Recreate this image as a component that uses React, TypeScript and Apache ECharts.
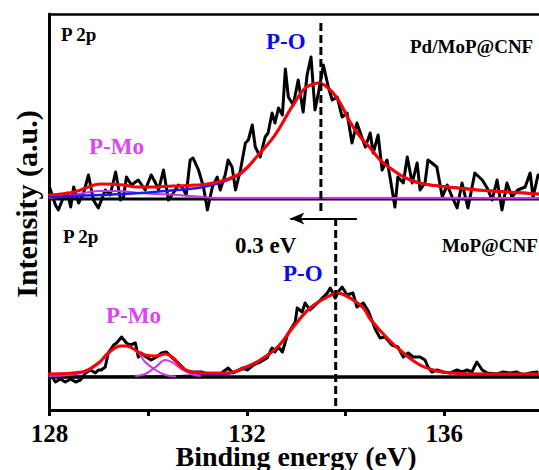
import React, { useEffect, useRef } from 'react';
import * as echarts from 'echarts';

const FONT = '"Liberation Serif", "Times New Roman", serif';

// axis
const X_MIN = 128;
const X_MAX = 137.92;
const X_STEP = 2;
const X_LABEL_STEP = 4;
const Y_MAX = 396;

// vertical stacking of the two spectra (a.u.)
const TOP_OFFSET = 211;
const BOTTOM_OFFSET = 33;

// peak positions (eV)
const TOP_PO_PEAK = 133.5;
const BOTTOM_PO_PEAK = 133.8;

// ---------- Pd/MoP@CNF (top) ----------
const topRaw: number[][] = [
  [128.0, 12], [128.12, -6], [128.18, -11], [128.26, -1], [128.36, 6], [128.43, -8], [128.49, 12],
  [128.59, -4], [128.69, 6], [128.79, 24], [128.89, -1], [128.99, -9], [129.13, 9], [129.23, 4],
  [129.34, 27], [129.44, -1], [129.5, 2], [129.56, 22], [129.66, 14], [129.8, 19], [129.94, 9],
  [130.06, 24], [130.15, 16], [130.21, 9], [130.31, 29], [130.41, -1], [130.51, 6], [130.61, 14],
  [130.69, 12], [130.77, 4], [130.85, 39], [130.91, 41], [131.02, 29], [131.12, 12], [131.2, -11],
  [131.3, 12], [131.4, 22], [131.46, 9], [131.56, 24], [131.62, 39], [131.7, 32], [131.77, 9],
  [131.87, 29], [131.97, 56], [132.03, 59], [132.11, 74], [132.17, 52], [132.27, 42], [132.37, 62],
  [132.43, 66], [132.51, 86], [132.57, 76], [132.64, 91], [132.72, 84], [132.78, 130], [132.84, 102],
  [132.94, 94], [133.04, 119], [133.14, 87], [133.22, 124], [133.3, 142], [133.38, 89], [133.45, 106],
  [133.55, 134], [133.65, 112], [133.73, 99], [133.83, 102], [133.93, 82], [134.03, 86], [134.13, 56],
  [134.23, 76], [134.3, 66], [134.4, 52], [134.5, 66], [134.56, 46], [134.66, 64], [134.74, 29],
  [134.84, 39], [134.9, 22], [135.0, -8], [135.06, 22], [135.17, 16], [135.25, 42], [135.35, 16],
  [135.45, 36], [135.51, 9], [135.61, 16], [135.67, 39], [135.75, 36], [135.85, 32], [135.96, 2],
  [136.06, 14], [136.16, 2], [136.26, -9], [136.36, 16], [136.48, -9], [136.62, 26], [136.77, 19],
  [136.87, 11], [136.97, -1], [137.07, 19], [137.17, -11], [137.27, 16], [137.37, 2], [137.49, 9],
  [137.64, 12], [137.74, 26], [137.8, 2], [137.9, 24],
];
const topEnvelope: number[][] = [
  [128.0, 4], [128.5, 7], [129.05, 15], [129.5, 14], [129.75, 12], [130.05, 12], [130.5, 13],
  [131.0, 14], [131.2, 15], [131.56, 19], [131.9, 27], [132.23, 44], [132.57, 64], [132.91, 92],
  [133.18, 111], [133.3, 114], [133.45, 116], [133.69, 109], [133.89, 96], [134.09, 77], [134.3, 62],
  [134.5, 51], [134.7, 39], [134.9, 31], [135.11, 24], [135.31, 19], [135.51, 16], [135.71, 14],
  [136.28, 11], [136.97, 8], [137.64, 6], [137.9, 5],
];
const topPO: number[][] = [
  [128.0, 2], [128.5, 3], [129.0, 4], [129.5, 5], [130.0, 6.5], [130.6, 9], [131.0, 11], [131.2, 13],
  [131.56, 18], [131.9, 26], [132.23, 44], [132.57, 64], [132.91, 92], [133.18, 111], [133.3, 114],
  [133.45, 116], [133.69, 109], [133.89, 96], [134.09, 77], [134.3, 62], [134.5, 51], [134.7, 39],
  [134.9, 31], [135.11, 24], [135.31, 19], [135.51, 16], [135.71, 14], [136.28, 11], [136.97, 8],
  [137.64, 6], [137.9, 5],
];
const topPMo: number[][] = [
  [128.0, 1], [128.5, 4], [129.0, 8], [129.4, 8], [129.8, 6], [130.2, 5], [130.6, 4], [131.0, 2.5],
  [131.4, 1], [131.8, 1], [137.9, 1],
];

// ---------- MoP@CNF (bottom) ----------
const bottomRaw: number[][] = [
  [128.0, 4], [128.12, -5], [128.22, -2], [128.32, -5], [128.43, -2], [128.53, -5], [128.63, -3],
  [128.73, 4], [128.83, 7], [128.93, 4], [128.99, 7], [129.05, 7], [129.13, 10], [129.19, 24],
  [129.3, 32], [129.36, 34], [129.46, 40], [129.56, 34], [129.64, 32], [129.74, 34], [129.8, 20],
  [129.86, 24], [129.96, 20], [130.06, 17], [130.17, 20], [130.27, 24], [130.37, 25], [130.47, 20],
  [130.61, 14], [130.75, 7], [130.87, 5], [131.08, 5], [131.26, 2], [131.46, 3], [131.62, 9],
  [131.72, 4], [131.91, 9], [132.01, 7], [132.13, 12], [132.27, 15], [132.41, 19], [132.51, 29],
  [132.57, 25], [132.64, 30], [132.72, 25], [132.82, 42], [132.88, 47], [132.98, 55], [133.02, 69],
  [133.12, 65], [133.18, 74], [133.28, 67], [133.43, 74], [133.53, 79], [133.63, 84], [133.69, 89],
  [133.79, 79], [133.85, 85], [133.93, 90], [134.03, 82], [134.15, 84], [134.23, 70], [134.36, 74],
  [134.46, 66], [134.6, 48], [134.7, 39], [134.8, 40], [134.94, 32], [135.06, 30], [135.17, 20],
  [135.27, 24], [135.37, 20], [135.51, 20], [135.61, 17], [135.67, 10], [135.75, 5], [135.85, 7],
  [135.98, 5], [136.12, 4], [136.26, 7], [136.36, 5], [136.46, 7], [136.56, 5], [136.66, 15],
  [136.77, 7], [136.87, 4], [137.07, 3], [137.19, 5], [137.33, 4], [137.47, 5], [137.6, 2],
  [137.74, 4], [137.88, 5],
];
const bottomEnvelope: number[][] = [
  [128.0, 3], [128.65, 5], [128.99, 14], [129.19, 24], [129.44, 31], [129.56, 31], [129.8, 25],
  [129.94, 22], [130.15, 21], [130.35, 23], [130.51, 19], [130.67, 10], [130.87, 5], [131.22, 4],
  [131.6, 4], [131.93, 9], [132.27, 17], [132.62, 30], [132.94, 50], [133.28, 69], [133.63, 80],
  [133.83, 84], [134.09, 79], [134.36, 69], [134.5, 58], [134.84, 39], [135.17, 24], [135.51, 12],
  [135.85, 6], [136.18, 4], [136.52, 3], [137.9, 3],
];
const bottomPO: number[][] = [
  [128.0, 0], [130.5, 0.5], [131.22, 2], [131.6, 3], [131.93, 8], [132.27, 17], [132.62, 30],
  [132.94, 50], [133.28, 69], [133.63, 80], [133.83, 84], [134.09, 79], [134.36, 69], [134.5, 58],
  [134.84, 39], [135.17, 24], [135.51, 12], [135.85, 6], [136.18, 4], [136.52, 3], [137.9, 3],
];
const bottomPMo1: number[][] = [
  [128.0, 1], [128.65, 4], [128.99, 13], [129.19, 23], [129.44, 31], [129.56, 31], [129.8, 24],
  [129.94, 15], [130.15, 7], [130.35, 2], [130.55, 0.5],
];
const bottomPMo2: number[][] = [
  [129.75, 1], [129.94, 3], [130.15, 10], [130.35, 17], [130.51, 14], [130.67, 8], [130.87, 3],
  [131.05, 1],
];

// annotations
const ARROW_FROM = 134.23;
const ARROW_TO = 132.88;
const ARROW_LEVEL = 191.5;

const shift = (d: number[][], off: number) => d.map(([x, y]) => [x, y + off]);

const RED = '#ff0000';
const BLUE = '#1a1aff';
const MAGENTA = '#cc33ee';
const LABEL_MAGENTA = '#dd44f2';
const LABEL_BLUE = '#0a0af0';

function lineSeries(data: number[][], color: string, width: number, z: number, smooth: number | boolean) {
  return {
    type: 'line',
    data,
    showSymbol: false,
    symbol: 'none',
    smooth,
    z,
    lineStyle: { color, width, cap: 'round', join: 'round' },
    silent: true,
  };
}

function dashed(x: number, y0: number, y1: number) {
  return {
    type: 'line',
    data: [[x, y0], [x, y1]],
    showSymbol: false,
    symbol: 'none',
    z: 8,
    silent: true,
    lineStyle: { color: '#000', width: 3, type: [8, 4] },
  };
}

function text(t: string, x: number, y: number, size: number, fill = '#000') {
  return {
    type: 'text',
    x,
    y,
    z: 100,
    style: {
      text: t,
      fill,
      font: `bold ${size}px ${FONT}`,
      align: 'left',
      verticalAlign: 'middle',
    },
  };
}

export default function App() {
  const ref = useRef<HTMLDivElement>(null);
  useEffect(() => {
    if (!ref.current) return;
    const chart = echarts.init(ref.current, null, { renderer: 'svg' });
    const option: any = {
      animation: false,
      backgroundColor: '#fff',
      grid: { left: 49.5, top: 14, width: 490, height: Y_MAX, containLabel: false },
      xAxis: [
        {
          type: 'value',
          position: 'bottom',
          min: X_MIN,
          max: X_MAX,
          interval: X_STEP,
          axisLine: { show: true, onZero: false, lineStyle: { color: '#000', width: 3 } },
          axisTick: { show: true, inside: false, length: 6, lineStyle: { color: '#000', width: 3 } },
          axisLabel: {
            show: true,
            margin: 14,
            color: '#000',
            fontFamily: FONT,
            fontWeight: 'bold',
            fontSize: 25,
            lineHeight: 19,
            showMaxLabel: false,
            formatter: (v: number) => (Math.abs(v % X_LABEL_STEP) < 1e-6 ? String(v) : ''),
          },
          splitLine: { show: false },
        },
        {
          type: 'value',
          position: 'top',
          min: X_MIN,
          max: X_MAX,
          interval: X_STEP,
          axisLine: { show: true, onZero: false, lineStyle: { color: '#000', width: 2.5 } },
          axisTick: { show: false },
          axisLabel: { show: false },
          splitLine: { show: false },
        },
      ],
      yAxis: {
        type: 'value',
        min: 0,
        max: Y_MAX,
        axisLine: { show: true, onZero: false, lineStyle: { color: '#000', width: 3 } },
        axisTick: { show: false },
        axisLabel: { show: false },
        splitLine: { show: false },
      },
      series: [
        // top panel
        lineSeries(shift(topRaw, TOP_OFFSET), '#000', 3, 2, false),
        lineSeries(shift([[X_MIN, 0], [X_MAX, 0]], TOP_OFFSET), '#000', 3, 3, false),
        lineSeries(shift(topPMo, TOP_OFFSET), MAGENTA, 2, 4, 0.4),
        lineSeries(shift(topPO, TOP_OFFSET), BLUE, 2.5, 5, 0.4),
        lineSeries(shift(topEnvelope, TOP_OFFSET), RED, 3, 6, 0.4),
        // bottom panel
        lineSeries(shift(bottomRaw, BOTTOM_OFFSET), '#000', 3, 2, false),
        lineSeries(shift(bottomPO, BOTTOM_OFFSET), BLUE, 2.5, 2.5, 0.4),
        lineSeries(shift([[X_MIN, 0], [X_MAX, 0]], BOTTOM_OFFSET), '#000', 3.5, 3, false),
        lineSeries(shift(bottomPMo1, BOTTOM_OFFSET), MAGENTA, 2, 4, 0.4),
        lineSeries(shift(bottomPMo2, BOTTOM_OFFSET), MAGENTA, 2, 4, 0.4),
        lineSeries(shift(bottomEnvelope, BOTTOM_OFFSET), RED, 3, 6, 0.4),
        // peak markers
        dashed(TOP_PO_PEAK, TOP_OFFSET + 176, TOP_OFFSET - 12),
        dashed(BOTTOM_PO_PEAK, BOTTOM_OFFSET + 159, BOTTOM_OFFSET - 31),
        {
          type: 'line',
          data: [],
          silent: true,
          markLine: {
            silent: true,
            animation: false,
            symbol: ['none', 'arrow'],
            symbolSize: [9, 14],
            label: { show: false },
            lineStyle: { color: '#000', width: 2, type: 'solid' },
            data: [[{ coord: [ARROW_FROM, ARROW_LEVEL] }, { coord: [ARROW_TO, ARROW_LEVEL] }]],
          },
        },
      ],
      graphic: [
        text('P 2p', 61, 34, 19),
        text('P-O', 266, 41, 23, LABEL_BLUE),
        text('Pd/MoP@CNF', 410, 46, 19),
        text('P-Mo', 89, 146, 23, LABEL_MAGENTA),
        text('P 2p', 63, 236, 19),
        text('0.3 eV', 235, 245, 23),
        text('MoP@CNF', 442, 245, 19),
        text('P-O', 283, 273, 23, LABEL_BLUE),
        text('P-Mo', 106, 315, 23, LABEL_MAGENTA),
        {
          type: 'text',
          x: 296,
          y: 456,
          z: 100,
          style: {
            text: 'Binding energy (eV)',
            fill: '#000',
            font: `bold 28px ${FONT}`,
            lineHeight: 20,
            align: 'center',
            verticalAlign: 'middle',
          },
        },
        {
          type: 'text',
          x: 26,
          y: 204,
          rotation: Math.PI / 2,
          z: 100,
          style: {
            text: 'Intensity (a.u.)',
            fill: '#000',
            font: `bold 30px ${FONT}`,
            align: 'center',
            verticalAlign: 'middle',
          },
        },
      ],
    };
    chart.setOption(option);
    return () => chart.dispose();
  }, []);
  return (
    <div
      ref={ref}
      style={{ position: 'absolute', left: 0, top: 0, width: 539, height: 470, background: '#fff' }}
    />
  );
}
